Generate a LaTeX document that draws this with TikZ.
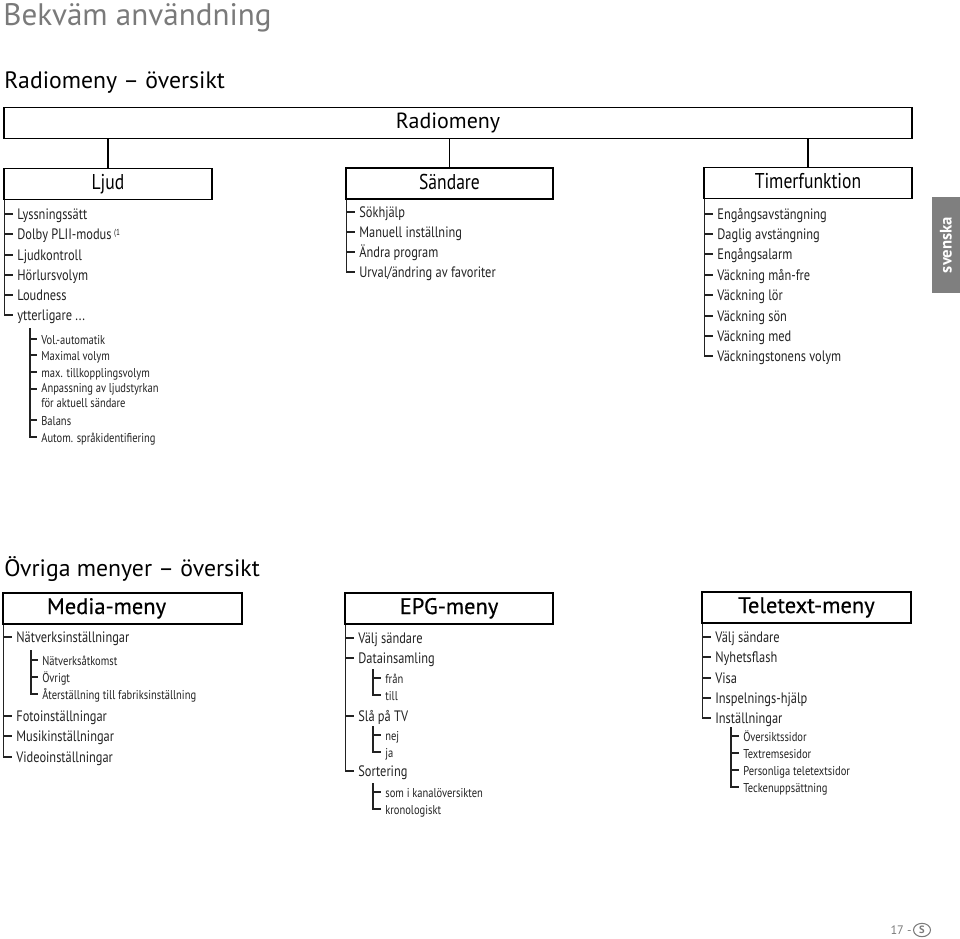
\documentclass[tikz,border=0pt]{standalone}
\usepackage{fontspec}
\usepackage{tikz}
\usetikzlibrary{shapes.geometric}
\setmainfont{PT Sans}
\newfontfamily\condfont[FakeStretch=0.82]{PT Sans}
\newfontfamily\semifont[FakeBold=0.5]{PT Sans}
\definecolor{inkgray}{HTML}{222222}
\definecolor{headgray}{HTML}{7A7A7A}
\definecolor{tabgray}{HTML}{7F7F7F}

\tikzset{
  menubox/.style={draw, line width=1.1pt, inner sep=0pt, minimum height=0.62cm, text height=1.6ex, text depth=0.35ex, font=\condfont\fontsize{12.2}{14}\selectfont},
  bigbox/.style={draw, line width=1.1pt, inner sep=0pt, minimum height=0.62cm, text height=1.6ex, text depth=0.35ex, font=\semifont\fontsize{12.8}{15}\selectfont},
  item/.style={anchor=west, inner sep=0pt, text height=1.6ex, text depth=0.3ex, text=inkgray, font=\condfont\fontsize{8.6}{10}\selectfont},
  subitem/.style={anchor=west, inner sep=0pt, text height=1.6ex, text depth=0.3ex, text=inkgray, font=\condfont\fontsize{7.3}{8.6}\selectfont},
  tree/.style={line width=0.75pt, inkgray}
}

\begin{document}
\begin{tikzpicture}[x=0.02cm, y=-0.02cm]
    \useasboundingbox (0,0) rectangle (960,938);

    % Headings
    \node[anchor=base west, inner sep=0pt, text=headgray, font=\fontsize{17.7}{21}\selectfont] (title) at (3,25) {Bekväm användning};
    \node[anchor=west, inner sep=0pt, font=\fontsize{13.5}{16}\selectfont] (radiohead) at (4,83) {Radiomeny -- översikt};

    % Radiomeny
    \node[menubox, minimum width=18.16cm, font=\fontsize{12.5}{15}\selectfont] (radio) at (458,123) {\hspace{-0.4cm}Radiomeny};
    \node[menubox, minimum width=4.16cm] (ljud) at (108,184) {Ljud};
    \node[menubox, minimum width=4.14cm] (sand) at (449.5,183.5) {Sändare};
    \node[menubox, minimum width=4.16cm] (timer) at (808,183) {Timerfunktion};
    \draw[line width=1.1pt] (radio.south -| ljud.north) -- (ljud.north);
    \draw[line width=1.1pt] (radio.south -| sand.north) -- (sand.north);
    \draw[line width=1.1pt] (radio.south -| timer.north) -- (timer.north);

    % Ljud
    \node[item] (l1) at (17,214) {Lyssningssätt};
    \node[item] (l2) at (17,234) {Dolby PLII-modus\,\raisebox{0.6ex}{\fontsize{5}{6}\selectfont (1}};
    \node[item] (l3) at (17,255) {Ljudkontroll};
    \node[item] (l4) at (17,275) {Hörlursvolym};
    \node[item] (l5) at (17,295) {Loudness};
    \node[item] (l6) at (17,315) {ytterligare ...};
    \draw[tree] ([xshift=1pt]ljud.south west) |- ([xshift=-2pt]l6.west);
    \foreach \n in {l1,l2,l3,l4,l5}
      \draw[tree] ([xshift=1pt]ljud.south west |- \n.west) -- ([xshift=-2pt]\n.west);

    \node[subitem] (v1) at (41,339) {Vol.-automatik};
    \node[subitem] (v2) at (41,355) {Maximal volym};
    \node[subitem] (v3) at (41,372) {max. tillkopplingsvolym};
    \node[subitem, anchor=north west, align=left, text height=, text depth=] (v4) at (41,383) {Anpassning av ljudstyrkan\\för aktuell sändare};
    \node[subitem] (v5) at (41,420) {Balans};
    \node[subitem] (v6) at (41,437) {Autom. språkidentifiering};
    \coordinate (vtop) at (30,328);
    \coordinate (v4tick) at ([yshift=-3.4pt]v4.north west);
    \draw[tree] (vtop) |- ([xshift=-2pt]v6.west);
    \foreach \n in {v1,v2,v3,v5}
      \draw[tree] (vtop |- \n.west) -- ([xshift=-2pt]\n.west);
    \draw[tree] (vtop |- v4tick) -- ([xshift=-2pt]v4tick);

    % Sändare
    \node[item] (s1) at (359,212) {Sökhjälp};
    \node[item] (s2) at (359,232) {Manuell inställning};
    \node[item] (s3) at (359,252) {Ändra program};
    \node[item] (s4) at (359,272) {Urval/ändring av favoriter};
    \draw[tree] ([xshift=1pt]sand.south west) |- ([xshift=-2pt]s4.west);
    \foreach \n in {s1,s2,s3}
      \draw[tree] ([xshift=1pt]sand.south west |- \n.west) -- ([xshift=-2pt]\n.west);

    % Timerfunktion
    \node[item] (t1) at (717,214) {Engångsavstängning};
    \node[item] (t2) at (717,234) {Daglig avstängning};
    \node[item] (t3) at (717,254) {Engångsalarm};
    \node[item] (t4) at (717,275) {Väckning mån-fre};
    \node[item] (t5) at (717,295) {Väckning lör};
    \node[item] (t6) at (717,316) {Väckning sön};
    \node[item] (t7) at (717,336) {Väckning med};
    \node[item] (t8) at (717,356) {Väckningstonens volym};
    \draw[tree] ([xshift=1pt]timer.south west) |- ([xshift=-2pt]t8.west);
    \foreach \n in {t1,t2,t3,t4,t5,t6,t7}
      \draw[tree] ([xshift=1pt]timer.south west |- \n.west) -- ([xshift=-2pt]\n.west);

    % Language tab
    \fill[tabgray] (932,197) rectangle (960,293);
    \node[rotate=90, text=white, font=\bfseries\fontsize{9.5}{11}\selectfont] (tab) at (946,245) {svenska};

    % Other menus
    \node[anchor=west, inner sep=0pt, font=\fontsize{13.5}{16}\selectfont] (otherhead) at (4,569) {Övriga menyer -- översikt};
    \node[bigbox, minimum width=4.78cm, text width=4.78cm, align=left] (media) at (122.5,608.5) {\hspace{0.88cm}Media-meny};
    \node[bigbox, minimum width=4.16cm] (epg) at (449,608.5) {EPG-meny};
    \node[bigbox, minimum width=4.18cm] (ttx) at (806.5,607.5) {Teletext-meny};

    % Media-meny
    \node[item] (m1) at (16,637) {Nätverksinställningar};
    \node[item] (m2) at (16,716) {Fotoinställningar};
    \node[item] (m3) at (16,736) {Musikinställningar};
    \node[item] (m4) at (16,757) {Videoinställningar};
    \draw[tree] ([xshift=1pt]media.south west) |- ([xshift=-2pt]m4.west);
    \foreach \n in {m1,m2,m3}
      \draw[tree] ([xshift=1pt]media.south west |- \n.west) -- ([xshift=-2pt]\n.west);
    \node[subitem] (n1) at (42,660) {Nätverksåtkomst};
    \node[subitem] (n2) at (42,677) {Övrigt};
    \node[subitem] (n3) at (42,694) {Återställning till fabriksinställning};
    \coordinate (ntop) at (31,650);
    \draw[tree] (ntop) |- ([xshift=-2pt]n3.west);
    \foreach \n in {n1,n2}
      \draw[tree] (ntop |- \n.west) -- ([xshift=-2pt]\n.west);

    % EPG-meny
    \node[item] (e1) at (358,638) {Välj sändare};
    \node[item] (e2) at (358,658) {Datainsamling};
    \node[item] (e3) at (358,716) {Slå på TV};
    \node[item] (e4) at (358,771) {Sortering};
    \draw[tree] ([xshift=1pt]epg.south west) |- ([xshift=-2pt]e4.west);
    \foreach \n in {e1,e2,e3}
      \draw[tree] ([xshift=1pt]epg.south west |- \n.west) -- ([xshift=-2pt]\n.west);
    \node[subitem] (d1) at (385,678) {från};
    \node[subitem] (d2) at (385,695) {till};
    \node[subitem] (p1) at (385,735) {nej};
    \node[subitem] (p2) at (385,752) {ja};
    \node[subitem] (o1) at (385,792) {som i kanalöversikten};
    \node[subitem] (o2) at (385,809) {kronologiskt};
    \coordinate (dtop) at (373,669);
    \coordinate (ptop) at (373,726);
    \coordinate (otop) at (373,783);
    \draw[tree] (dtop) |- ([xshift=-2pt]d2.west);
    \draw[tree] (dtop |- d1.west) -- ([xshift=-2pt]d1.west);
    \draw[tree] (ptop) |- ([xshift=-2pt]p2.west);
    \draw[tree] (ptop |- p1.west) -- ([xshift=-2pt]p1.west);
    \draw[tree] (otop) |- ([xshift=-2pt]o2.west);
    \draw[tree] (otop |- o1.west) -- ([xshift=-2pt]o1.west);

    % Teletext-meny
    \node[item] (x1) at (715,637) {Välj sändare};
    \node[item] (x2) at (715,657) {Nyhetsflash};
    \node[item] (x3) at (715,678) {Visa};
    \node[item] (x4) at (715,698) {Inspelnings-hjälp};
    \node[item] (x5) at (715,718) {Inställningar};
    \draw[tree] ([xshift=1pt]ttx.south west) |- ([xshift=-2pt]x5.west);
    \foreach \n in {x1,x2,x3,x4}
      \draw[tree] ([xshift=1pt]ttx.south west |- \n.west) -- ([xshift=-2pt]\n.west);
    \node[subitem] (y1) at (743,736) {Översiktssidor};
    \node[subitem] (y2) at (743,753) {Textremsesidor};
    \node[subitem] (y3) at (743,770) {Personliga teletextsidor};
    \node[subitem] (y4) at (743,787) {Teckenuppsättning};
    \coordinate (ytop) at (731,727);
    \draw[tree] (ytop) |- ([xshift=-2pt]y4.west);
    \foreach \n in {y1,y2,y3}
      \draw[tree] (ytop |- \n.west) -- ([xshift=-2pt]\n.west);

    % Page number
    \node[anchor=east, inner sep=0pt, text=headgray, font=\fontsize{7}{8}\selectfont] (pagenum) at (912,930) {17 -};
    \node[ellipse, draw=headgray, line width=0.6pt, inner sep=0.5pt, minimum width=0.34cm, minimum height=0.2cm, text=headgray, font=\bfseries\fontsize{6}{7}\selectfont] (lang) at (922,930) {S};
\end{tikzpicture}
\end{document}
